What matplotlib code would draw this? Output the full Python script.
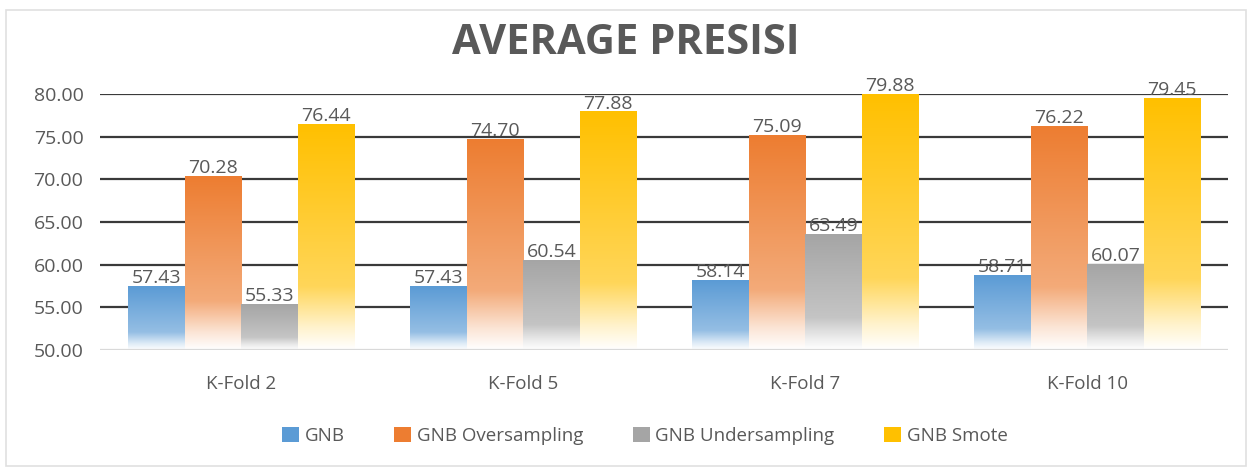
import numpy as np
import matplotlib
matplotlib.use("Agg")
import matplotlib.pyplot as plt
from matplotlib.colors import to_rgb
from matplotlib.patches import Rectangle

plt.rcParams['font.family'] = ['Open Sans', 'DejaVu Sans']

categories = ["K-Fold 2", "K-Fold 5", "K-Fold 7", "K-Fold 10"]
series_names = ["GNB", "GNB Oversampling", "GNB Undersampling", "GNB Smote"]
gnb = [57.43, 57.43, 58.14, 58.71]
gnb_over = [70.28, 74.70, 75.09, 76.22]
gnb_under = [55.33, 60.54, 63.49, 60.07]
gnb_smote = [76.44, 77.88, 79.88, 79.45]
series_values = [gnb, gnb_over, gnb_under, gnb_smote]
colors = ["#5B9BD5", "#ED7D31", "#A5A5A5", "#FFC000"]
yticks = [50, 55, 60, 65, 70, 75, 80]

text_col = "#595959"
fig = plt.figure(figsize=(12.52, 4.70), dpi=100)
ax = fig.add_axes([0.08, 0.255, 0.901, 0.545])

def gradient(color, n=200):
    c = np.array(to_rgb(color))
    t = np.linspace(0, 1, n)
    a = np.interp(t, [0, 0.72, 0.9, 1.0], [0.0, 0.35, 0.8, 1.0])
    rgb = c[None, :] * (1 - a[:, None]) + a[:, None]
    return rgb[:, None, :]

base = 50
width = 0.2
x = np.arange(len(categories))
for i, (vals, col) in enumerate(zip(series_values, colors)):
    offs = (i - 1.5) * width
    for xi, v in zip(x, vals):
        x0 = xi + offs - width / 2
        ax.imshow(gradient(col), extent=(x0, x0 + width, base, v),
                  aspect='auto', origin='upper', zorder=3, interpolation='bilinear')
        ax.text(xi + offs, v - 0.05, f"{v:.2f}", ha='center', va='bottom',
                fontsize=14, color=text_col, zorder=5)

ax.set_xlim(-0.5, len(categories) - 0.5)
ax.set_ylim(50, 80)
for yv in yticks[1:]:
    ax.axhline(yv, color='#3a3a3a', lw=1.6, zorder=2)
ax.axhline(50, color='#d9d9d9', lw=1.6, zorder=4)
for s in ax.spines.values():
    s.set_visible(False)
ax.set_yticks(yticks)
ax.set_yticklabels([f"{v:.2f}" for v in yticks], fontsize=14, color=text_col)
ax.set_xticks(x)
ax.set_xticklabels(categories, fontsize=13.5, color=text_col)
ax.tick_params(length=0, pad=12)
ax.tick_params(axis='x', pad=18)

fig.text(0.5, 0.908, "AVERAGE PRESISI", ha='center', va='center',
         fontsize=30, fontweight='bold', color=text_col)

handles = [Rectangle((0, 0), 1, 1, facecolor=c, edgecolor='none') for c in colors]
fig.legend(handles, series_names, loc='center', bbox_to_anchor=(0.515, 0.073),
           ncol=4, frameon=False, fontsize=13.5, handlelength=0.9, handleheight=0.9,
           handletextpad=0.3, columnspacing=2.65, labelcolor=text_col)

fig.patches.append(Rectangle((6 / 1252, 4 / 470), 1 - 12 / 1252, 1 - 14 / 470,
                             transform=fig.transFigure, fill=False,
                             edgecolor='#e0e0e0', lw=1.2))

fig.savefig("out.png", dpi=100)
